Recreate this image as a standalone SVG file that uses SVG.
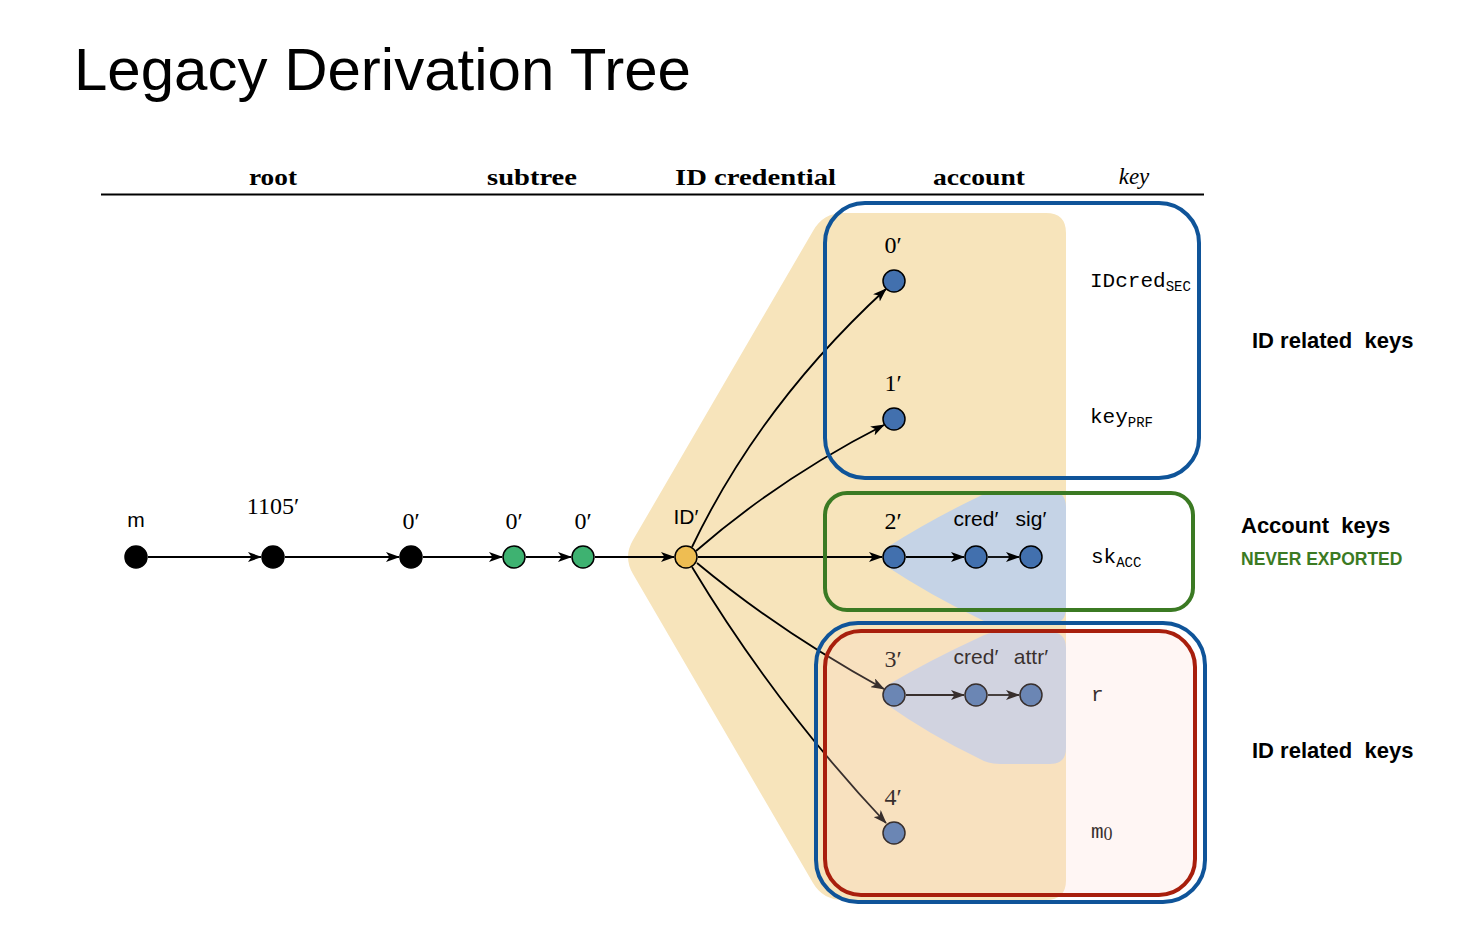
<svg xmlns="http://www.w3.org/2000/svg" width="1464" height="932" viewBox="0 0 1464 932">
<style>
.hdr{font-family:"Liberation Serif",serif;font-weight:bold;font-size:23px;text-anchor:middle;fill:#000}
.num{font-family:"Liberation Serif","DejaVu Serif",serif;font-size:24px;text-anchor:middle;fill:#000}
.sans{font-family:"Liberation Sans",Arial,sans-serif;font-size:21px;text-anchor:middle;fill:#000}
.mono{font-family:"Liberation Mono","Courier New",monospace;font-size:21px;fill:#000}
.sub{font-size:14px}
.side{font-family:"Liberation Sans",Arial,sans-serif;font-weight:bold;font-size:22px;fill:#000;white-space:pre}
.edge{fill:none;stroke:#000;stroke-width:1.8;marker-end:url(#arr)}
.nb{fill:#000;stroke:#000;stroke-width:1.5}
.ng{fill:#3eb271;stroke:#000;stroke-width:1.5}
.no{fill:#eebd52;stroke:#000;stroke-width:1.5}
.nu{fill:#4270ae;stroke:#000;stroke-width:1.5}
</style>
<defs>
<marker id="arr" viewBox="0 0 14 10" refX="13" refY="5" markerWidth="14" markerHeight="10" orient="auto" markerUnits="userSpaceOnUse">
<path d="M0,0 L14,5 L0,10 L3.5,5 Z" fill="#000"/>
</marker>
</defs>
<rect width="1464" height="932" fill="#fff"/>
<text x="74" y="90" font-family="Liberation Sans, Arial, sans-serif" font-size="60" fill="#000">Legacy Derivation Tree</text>
<g id="header">
<line x1="101" y1="194.5" x2="1204" y2="194.5" stroke="#000" stroke-width="2"/>
<text class="hdr" x="273" y="185" textLength="48" lengthAdjust="spacingAndGlyphs">root</text>
<text class="hdr" x="532" y="185" textLength="90" lengthAdjust="spacingAndGlyphs">subtree</text>
<text class="hdr" x="755.5" y="185" textLength="161" lengthAdjust="spacingAndGlyphs">ID credential</text>
<text class="hdr" x="979" y="185" textLength="92" lengthAdjust="spacingAndGlyphs">account</text>
<text x="1134" y="184" font-family="Liberation Serif, serif" font-style="italic" font-size="23" text-anchor="middle">key</text>
</g>
<g id="backgrounds">
<path d="M633,540 L813,231 Q823,213 843,213 L1046,213 Q1066,213 1066,233 L1066,880 Q1066,900 1046,900 L843,900 Q823,900 813,883 L633,574 Q623,557 633,540 Z" fill="#f7e4bb"/>
<path d="M886,548 Q930,520 978,497 Q988,491 1000,491 L1050,491 Q1066,491 1066,507 L1066,608 Q1066,624 1050,624 L1000,624 Q988,624 978,618 Q930,595 886,566 Q879,557 886,548 Z" fill="#c5d3e6"/>
<path d="M886,686 Q930,660 978,638 Q988,632 1000,632 L1050,632 Q1066,632 1066,648 L1066,748 Q1066,764 1050,764 L1000,764 Q988,764 978,758 Q930,735 886,704 Q879,695 886,686 Z" fill="#c5d3e6"/>
</g>
<g id="connectors">
<path class="edge" d="M148,557 H261"/>
<path class="edge" d="M285,557 H399"/>
<path class="edge" d="M423,557 H502"/>
<path class="edge" d="M526,557 H571"/>
<path class="edge" d="M595,557 H674"/>
<path class="edge" d="M698,557 H882"/>
<path class="edge" d="M906,557 H964"/>
<path class="edge" d="M988,557 H1019"/>
<path class="edge" d="M906,695 H964"/>
<path class="edge" d="M988,695 H1019"/>
<path class="edge" d="M692,547 Q760,405 886,289"/>
<path class="edge" d="M696,551 Q780,478 884,425"/>
<path class="edge" d="M697,563 Q780,632 884,689"/>
<path class="edge" d="M692,567 Q775,705 886,823"/>
</g>
<g id="node-m"><circle class="nb" cx="136" cy="557" r="11"/><text class="sans" x="136" y="527">m</text></g>
<g id="node-1105"><circle class="nb" cx="273" cy="557" r="11"/><text class="num" x="273" y="514">1105′</text></g>
<g id="node-0a"><circle class="nb" cx="411" cy="557" r="11"/><text class="num" x="411" y="529">0′</text></g>
<g id="node-0b"><circle class="ng" cx="514" cy="557" r="11"/><text class="num" x="514" y="529">0′</text></g>
<g id="node-0c"><circle class="ng" cx="583" cy="557" r="11"/><text class="num" x="583" y="529">0′</text></g>
<g id="node-id"><circle class="no" cx="686" cy="557" r="11"/><text class="sans" x="686" y="524">ID′</text></g>
<g id="node-k0"><circle class="nu" cx="894" cy="281" r="11"/><text class="num" x="893" y="253">0′</text></g>
<g id="node-k1"><circle class="nu" cx="894" cy="419" r="11"/><text class="num" x="893" y="391">1′</text></g>
<g id="node-k2"><circle class="nu" cx="894" cy="557" r="11"/><text class="num" x="893" y="529">2′</text></g>
<g id="node-cred2"><circle class="nu" cx="976" cy="557" r="11"/><text class="sans" x="976" y="526">cred′</text></g>
<g id="node-sig"><circle class="nu" cx="1031" cy="557" r="11"/><text class="sans" x="1031" y="526">sig′</text></g>
<g id="node-k3"><circle class="nu" cx="894" cy="695" r="11"/><text class="num" x="893" y="667">3′</text></g>
<g id="node-cred3"><circle class="nu" cx="976" cy="695" r="11"/><text class="sans" x="976" y="664">cred′</text></g>
<g id="node-attr"><circle class="nu" cx="1031" cy="695" r="11"/><text class="sans" x="1031" y="664">attr′</text></g>
<g id="node-k4"><circle class="nu" cx="894" cy="833" r="11"/><text class="num" x="893" y="805">4′</text></g>
<g id="keys">
<text class="mono" x="1090" y="287">IDcred<tspan class="sub" dy="4">SEC</tspan></text>
<text class="mono" x="1090" y="423">key<tspan class="sub" dy="4">PRF</tspan></text>
<text class="mono" x="1091" y="563">sk<tspan class="sub" dy="4">ACC</tspan></text>
<text class="mono" x="1091" y="701">r</text>
<text class="mono" x="1091" y="838">m<tspan font-family="Liberation Serif, serif" font-size="18" dy="2">0</tspan></text>
</g>
<g id="box-id-upper"><rect x="825" y="203" width="374" height="275" rx="40" fill="none" stroke="#0f5499" stroke-width="4"/></g>
<g id="box-account"><rect x="825" y="493" width="368" height="117" rx="22" fill="none" stroke="#3b7a23" stroke-width="4"/></g>
<g id="box-id-lower"><rect x="816" y="623" width="389" height="279" rx="42" fill="none" stroke="#0f5499" stroke-width="4"/></g>
<g id="box-red"><rect x="825" y="631" width="370" height="264" rx="36" fill="#ffd6cc" fill-opacity="0.22" stroke="#a81f0d" stroke-width="4"/></g>
<g id="side-labels">
<text class="side" x="1252" y="348">ID related  keys</text>
<text class="side" x="1241" y="533">Account  keys</text>
<text x="1241" y="565" font-family="Liberation Sans, Arial, sans-serif" font-weight="bold" font-size="17.5" fill="#3b7a23">NEVER EXPORTED</text>
<text class="side" x="1252" y="758">ID related  keys</text>
</g>
</svg>
